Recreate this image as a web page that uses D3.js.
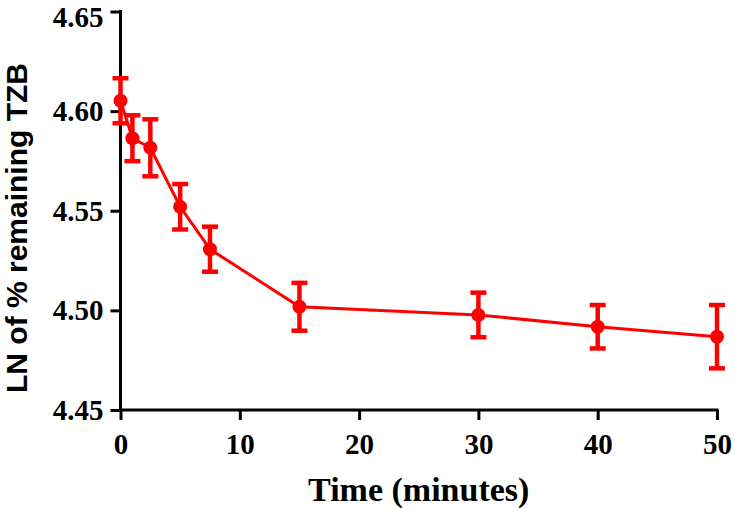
<!DOCTYPE html>
<html>
<head>
<meta charset="utf-8">
<script src="https://cdn.jsdelivr.net/npm/d3@7"></script>
<style>
  html, body { margin: 0; padding: 0; background: #fff; }
  svg { display: block; }
</style>
</head>
<body>
<svg id="chart" width="735" height="510"></svg>
<script>
// ---- data ----
const times = [0, 1, 2.5, 5, 7.5, 15, 30, 40, 50];
const lnRemaining = [4.6052, 4.5864, 4.5816, 4.5520, 4.5307, 4.5018, 4.4977, 4.4918, 4.4868];
const errors = [0.0113, 0.0115, 0.0143, 0.0114, 0.0113, 0.0120, 0.0112, 0.0109, 0.0159];
const xTicks = [0, 10, 20, 30, 40, 50];
const yTicks = [4.45, 4.50, 4.55, 4.60, 4.65];
const xTitle = "Time (minutes)";
const yTitle = "LN of % remaining TZB";

(function () {
const svg = d3.select("#chart");
const mLeft = 120.5, mRight = 717, mTop = 11.5, mBottom = 410;
const x = d3.scaleLinear().domain([0, 50]).range([mLeft, mRight]);
const y = d3.scaleLinear().domain([4.45, 4.65]).range([mBottom, mTop]);
const red = "#ff0000";
const serif = "'Liberation Serif', 'Times New Roman', serif";
const sans = "'Liberation Sans', Arial, sans-serif";

// y axis
const yAxis = svg.append("g").attr("transform", `translate(${mLeft},0)`)
  .call(d3.axisLeft(y).tickValues(yTicks).tickFormat(d3.format(".2f")).tickSize(10).tickPadding(7));
yAxis.select(".domain").attr("d", `M0,${mTop}V${mBottom}`);
// x axis
const xAxis = svg.append("g").attr("transform", `translate(0,${mBottom})`)
  .call(d3.axisBottom(x).tickValues(xTicks).tickSize(10).tickPadding(13));
xAxis.select(".domain").attr("d", `M${mLeft},0H${mRight}`);

[yAxis, xAxis].forEach(g => {
  g.select(".domain").attr("stroke", "#000").attr("stroke-width", 3).attr("stroke-linecap", "square");
  g.selectAll(".tick line").attr("stroke", "#000").attr("stroke-width", 3);
  g.selectAll(".tick text").attr("fill", "#000")
    .style("font-family", serif).style("font-weight", "bold").style("font-size", "29px");
});
// top label nudged down as in reference
yAxis.selectAll(".tick text").filter(d => d === 4.65).attr("dy", "0.5em");

// axis titles
svg.append("text")
  .attr("x", (mLeft + mRight) / 2).attr("y", 501)
  .attr("text-anchor", "middle")
  .style("font-family", serif).style("font-weight", "bold").style("font-size", "34px")
  .text(xTitle);
svg.append("text")
  .attr("transform", `translate(27,228) rotate(-90)`)
  .attr("text-anchor", "middle")
  .style("font-family", sans).style("font-weight", "bold").style("font-size", "30px")
  .text(yTitle);

// data
const data = times.map((t, i) => ({ t, v: lnRemaining[i], e: errors[i] }));
const plot = svg.append("g");
plot.append("path").datum(data)
  .attr("fill", "none").attr("stroke", red).attr("stroke-width", 3)
  .attr("d", d3.line().x(d => x(d.t)).y(d => y(d.v)));

const capW = 8;
const eb = plot.selectAll(".eb").data(data).enter().append("g");
eb.append("line")
  .attr("x1", d => x(d.t)).attr("x2", d => x(d.t))
  .attr("y1", d => y(d.v + d.e)).attr("y2", d => y(d.v - d.e))
  .attr("stroke", red).attr("stroke-width", 4.5);
eb.append("line")
  .attr("x1", d => x(d.t) - capW).attr("x2", d => x(d.t) + capW)
  .attr("y1", d => y(d.v + d.e)).attr("y2", d => y(d.v + d.e))
  .attr("stroke", red).attr("stroke-width", 4.5);
eb.append("line")
  .attr("x1", d => x(d.t) - capW).attr("x2", d => x(d.t) + capW)
  .attr("y1", d => y(d.v - d.e)).attr("y2", d => y(d.v - d.e))
  .attr("stroke", red).attr("stroke-width", 4.5);
plot.selectAll(".pt").data(data).enter().append("circle")
  .attr("cx", d => x(d.t)).attr("cy", d => y(d.v)).attr("r", 7)
  .attr("fill", red);
})();
</script>
</body>
</html>
